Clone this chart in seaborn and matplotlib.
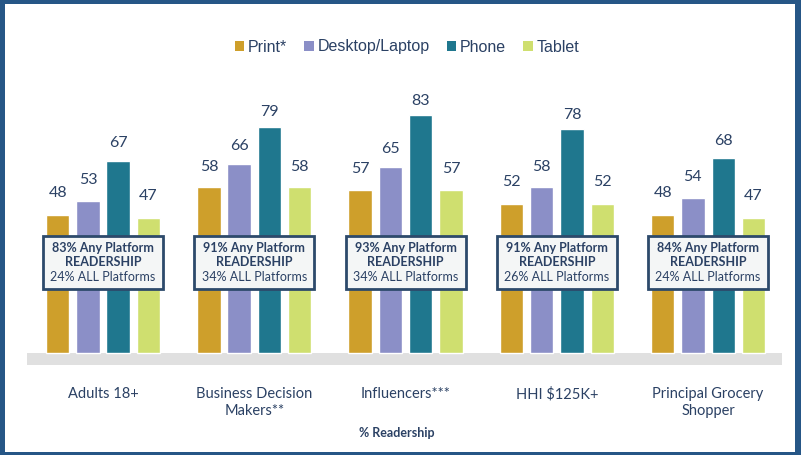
import matplotlib
matplotlib.use('Agg')
import matplotlib.pyplot as plt
import seaborn as sns
import pandas as pd
from matplotlib.patches import Rectangle, Patch

categories = ["Adults 18+", "Business Decision\nMakers**", "Influencers***",
              "HHI $125K+", "Principal Grocery\nShopper"]
platforms = ["Print*", "Desktop/Laptop", "Phone", "Tablet"]
print_vals = [48, 58, 57, 52, 48]
desktop_vals = [53, 66, 65, 58, 54]
phone_vals = [67, 79, 83, 78, 68]
tablet_vals = [47, 58, 57, 52, 47]
any_platform = [83, 91, 93, 91, 84]
all_platforms = [24, 34, 34, 26, 24]
colors = ["#CE9F2B", "#8B8FC7", "#1F778E", "#CFDF6F"]

NAVY = "#2B4164"
FRAME = "#265686"

rows = []
for p, vals in zip(platforms, [print_vals, desktop_vals, phone_vals, tablet_vals]):
    for c, v in zip(categories, vals):
        rows.append({"Segment": c, "Platform": p, "Value": v})
df = pd.DataFrame(rows)

sns.set_theme(style="white")
plt.rcParams['font.family'] = ['Lato', 'DejaVu Sans']

W, H = 801, 455
fig = plt.figure(figsize=(W / 100, H / 100), dpi=100)
fig.patch.set_facecolor("white")

ppu = 2.862
base_px = 352.7
ax_bottom_px, ax_top_px = 365, 70
ax = fig.add_axes([27 / W, (H - ax_bottom_px) / H, 755 / W, (ax_bottom_px - ax_top_px) / H])
ylo = -(ax_bottom_px - base_px) / ppu
yhi = (base_px - ax_top_px) / ppu

sns.barplot(data=df, x="Segment", y="Value", hue="Platform", hue_order=platforms,
            order=categories, palette=colors, saturation=1, width=0.8, gap=0.23,
            ax=ax, legend=False, zorder=2)

ax.set_xlim(-0.5025, 4.489)
ax.set_ylim(ylo, yhi)
ax.axhspan(ylo, 0, xmin=0, xmax=1, color="#E0E0E0", zorder=1, lw=0)
for s in ax.spines.values():
    s.set_visible(False)
ax.set_yticks([])
ax.set_xlabel("")
ax.set_ylabel("")
ax.tick_params(axis="x", length=0, pad=16, labelsize=10.5, labelcolor=NAVY)
for t in ax.get_xticklabels():
    t.set_linespacing(1.25)

# value labels
for cont in ax.containers:
    for bar in cont:
        v = bar.get_height()
        ax.text(bar.get_x() + bar.get_width() / 2, 0.913 * v + 10.6, f"{v:.0f}",
                ha="center", va="baseline", fontsize=11.5, color=NAVY, zorder=4)

# readership boxes
bw = 120 / 151.25
bh = 53 / ppu
yc = (base_px - 262) / ppu
for i, (a, al) in enumerate(zip(any_platform, all_platforms)):
    ax.add_patch(Rectangle((i - bw / 2, yc - bh / 2), bw, bh, facecolor="#F4F6F6",
                           edgecolor="#2D4A6B", lw=2, zorder=5))
    ax.text(i, (base_px - 248) / ppu, f"{a}% Any Platform", ha="center", va="center",
            fontsize=9, fontweight="bold", color=NAVY, zorder=6)
    ax.text(i, (base_px - 262.5) / ppu, "READERSHIP", ha="center", va="center",
            fontsize=9, fontweight="bold", color=NAVY, zorder=6)
    ax.text(i, (base_px - 277) / ppu, f"{al}% ALL Platforms", ha="center", va="center",
            fontsize=9, color=NAVY, zorder=6)

fig.text(397 / W, 1 - 433 / H, "% Readership", ha="center", va="center",
         fontsize=9, fontweight="bold", color=NAVY)

handles = [Patch(facecolor=c, edgecolor="none") for c in colors]
leg = fig.legend(handles, platforms, loc="center", bbox_to_anchor=(407 / W, 1 - 47 / H),
                 ncol=4, frameon=False, handlelength=0.6, handleheight=0.6,
                 handletextpad=0.25, columnspacing=1.05,
                 prop={"family": "Liberation Sans", "size": 11.5})
for t in leg.get_texts():
    t.set_color(NAVY)

# outer frame
for (x, y, w, h) in [(0, 0, 5, H), (W - 6, 0, 6, H), (0, 0, W, 3), (0, H - 4, W, 4)]:
    fig.add_artist(Rectangle((x / W, y / H), w / W, h / H, transform=fig.transFigure,
                             facecolor=FRAME, edgecolor="none", zorder=10))

fig.savefig("out.png", dpi=100, facecolor="white")
